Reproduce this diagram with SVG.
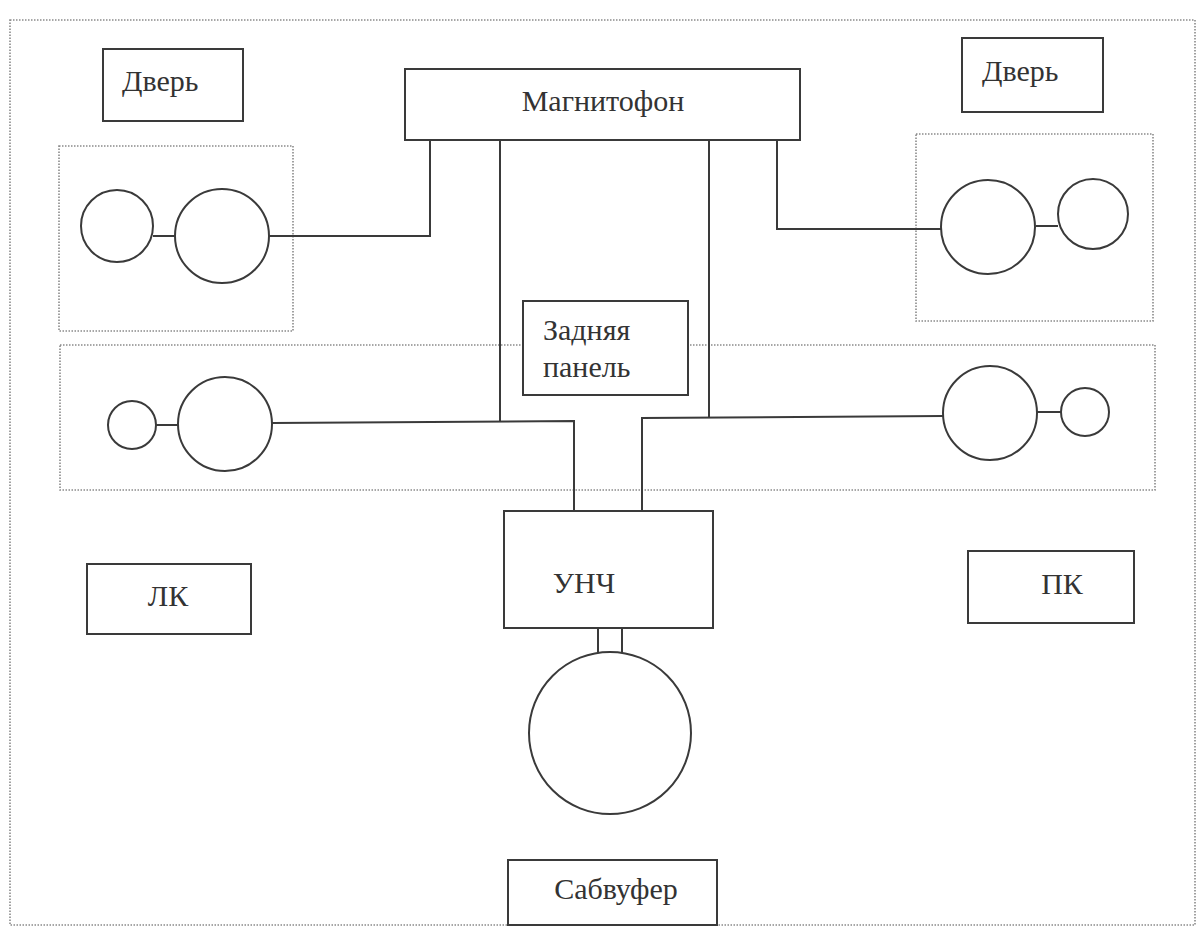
<svg xmlns="http://www.w3.org/2000/svg" width="1198" height="929" viewBox="0 0 1198 929">
<style>
.box{fill:#fff;stroke:#3a3a3a;stroke-width:2}
.spk{fill:#fff;stroke:#3a3a3a;stroke-width:2}
.dot{fill:none;stroke:#8a8a8a;stroke-width:1.6;stroke-dasharray:1.5 1.5}
.wire{fill:none;stroke:#3a3a3a;stroke-width:2}
text{font-family:"Liberation Serif","Times New Roman",serif;font-size:30px;fill:#333}
</style>
<rect width="1198" height="929" fill="#fff"/>
<g id="frame">
<rect class="dot" x="10" y="20" width="1185" height="905"/>
</g>
<g id="zones">
<rect class="dot" x="59" y="146" width="234" height="185"/>
<rect class="dot" x="916" y="134" width="237" height="187"/>
<rect class="dot" x="60" y="345" width="1095" height="145"/>
</g>
<g id="connectors">
<polyline class="wire" points="269,236 430,236 430,140"/>
<polyline class="wire" points="941,229 777,229 777,140"/>
<polyline class="wire" points="500,140 500,421"/>
<polyline class="wire" points="709,140 709,417"/>
<polyline class="wire" points="272,423 574,421 574,511"/>
<polyline class="wire" points="943,416 642,418 642,511"/>
<line class="wire" x1="153" y1="236" x2="176" y2="236"/>
<line class="wire" x1="1036" y1="226" x2="1058" y2="226"/>
<line class="wire" x1="156" y1="425" x2="178" y2="425"/>
<line class="wire" x1="1037" y1="412" x2="1061" y2="412"/>
<line class="wire" x1="598" y1="628" x2="598" y2="653"/>
<line class="wire" x1="622" y1="628" x2="622" y2="653"/>
</g>
<g id="door-left">
<rect class="box" x="103" y="49" width="140" height="72"/>
<text x="122" y="91">Дверь</text>
</g>
<g id="door-right">
<rect class="box" x="962" y="38" width="141" height="74"/>
<text x="982" y="81">Дверь</text>
</g>
<g id="magnitofon">
<rect class="box" x="405" y="69" width="395" height="71"/>
<text x="603" y="111" text-anchor="middle">Магнитофон</text>
</g>
<g id="rear-panel">
<rect class="box" x="523" y="301" width="165" height="94"/>
<text x="543" y="340">Задняя</text>
<text x="543" y="377">панель</text>
</g>
<g id="unch">
<rect class="box" x="504" y="511" width="209" height="117"/>
<text x="584" y="593" text-anchor="middle">УНЧ</text>
</g>
<g id="lk">
<rect class="box" x="87" y="564" width="164" height="70"/>
<text x="168" y="606" text-anchor="middle">ЛК</text>
</g>
<g id="pk">
<rect class="box" x="968" y="551" width="166" height="72"/>
<text x="1062" y="594" text-anchor="middle">ПК</text>
</g>
<g id="subwoofer">
<rect class="box" x="508" y="860" width="209" height="65"/>
<text x="616" y="899" text-anchor="middle">Сабвуфер</text>
</g>
<g id="speakers-door-left">
<circle class="spk" cx="117" cy="226" r="36"/>
<circle class="spk" cx="222" cy="236" r="47"/>
</g>
<g id="speakers-door-right">
<circle class="spk" cx="988" cy="227" r="47"/>
<circle class="spk" cx="1093" cy="214" r="35"/>
</g>
<g id="speakers-rear-left">
<circle class="spk" cx="132" cy="425" r="24"/>
<circle class="spk" cx="225" cy="424" r="47"/>
</g>
<g id="speakers-rear-right">
<circle class="spk" cx="990" cy="413" r="47"/>
<circle class="spk" cx="1085" cy="412" r="24"/>
</g>
<g id="subwoofer-speaker">
<circle class="spk" cx="610" cy="733" r="81"/>
</g>
</svg>
